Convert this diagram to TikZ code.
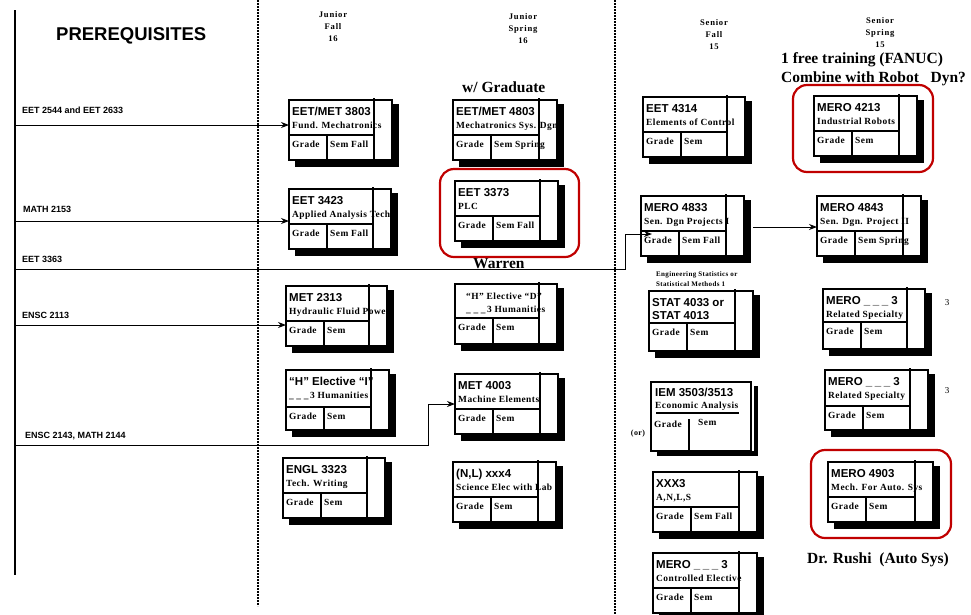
\documentclass[tikz,border=0pt]{standalone}
\usepackage{fontspec}
\setmainfont{Liberation Serif}
\newfontfamily\sansf{Liberation Sans}
\newfontfamily\serifsp[LetterSpace=5]{Liberation Serif}
\newfontfamily\serifwide[LetterSpace=9]{Liberation Serif}
\usetikzlibrary{arrows.meta}
\definecolor{boxred}{RGB}{192,0,0}

\tikzset{
 cbox/.style={draw, line width=1.3pt, fill=white, minimum height=60pt, inner sep=0pt, outer sep=0pt},
 rule/.style={line width=1.3pt},
 ctext/.style={font=\sansf\bfseries\fontsize{11.5}{13}\selectfont, inner sep=0pt, anchor=base west},
 stext/.style={font=\serifsp\bfseries\fontsize{9.4}{10}\selectfont, inner sep=0pt, anchor=base west},
 hdr/.style={font=\serifwide\bfseries\fontsize{8.6}{12}\selectfont, align=center, inner sep=0pt},
 big/.style={font=\bfseries\fontsize{15.5}{18}\selectfont, inner sep=0pt, anchor=base west},
 plabel/.style={font=\sansf\bfseries\fontsize{9}{10}\selectfont, inner sep=0pt, anchor=base west},
 smalltxt/.style={font=\serifsp\bfseries\fontsize{7}{8}\selectfont, inner sep=0pt, anchor=base west},
 arr/.style={line width=1pt, -{Stealth[length=8pt,width=6pt]}},
 dotline/.style={line width=1.7pt, dash pattern=on 1.7pt off 1.3pt},
 redbox/.style={draw=boxred, line width=2.2pt, rounded corners=14pt},
}

\newcommand\gapunders{\_\hspace{2.6pt}\_\hspace{2.6pt}\_}
\def\crsdiv{35}
\newcommand\crs[7]{%
 \fill[black] (#2+6,#3+4) rectangle (#2+#4+7,#3+67);
 \node[cbox, minimum width=#4pt, anchor=north west] (#1) at (#2,#3) {};
 \node[ctext] (#1-c) at ([shift={(3,15)}]#1.north west) {#5};
 \node[stext] (#1-s) at ([shift={(3,28)}]#1.north west) {#6};
 \node[stext] (#1-g) at ([shift={(3,\crsdiv+12)}]#1.north west) {Grade};
 \node[stext] (#1-m) at ([shift={(41,\crsdiv+12)}]#1.north west) {#7};
 \draw[rule] ([shift={(0,\crsdiv)}]#1.north west) -- ([shift={(#4-18,\crsdiv)}]#1.north west);
 \draw[rule] ([shift={(38,\crsdiv)}]#1.north west) -- ([shift={(38,0)}]#1.south west);
 \draw[rule] ([shift={(#4-18,-2)}]#1.north west) -- ([shift={(#4-18,0)}]#1.south west);
}

\begin{document}
\begin{tikzpicture}[x=1pt,y=-1pt]
\useasboundingbox (0,0) rectangle (971,614);
\clip (0,0) rectangle (971,614);
\fill[white] (0,0) rectangle (971,614);

% frame lines
\coordinate (vtop) at (15,10);
\coordinate (vbot) at (15,575);
\draw[line width=1.5pt] (vtop) -- (vbot);
\coordinate (d1t) at (258,0);
\coordinate (d1b) at (258,606);
\draw[dotline] (d1t) -- (d1b);
\coordinate (d2t) at (615,0);
\coordinate (d2b) at (615,614);
\draw[dotline] (d2t) -- (d2b);

% titles
\node[font=\sansf\bfseries\fontsize{18.5}{20}\selectfont, anchor=base west, inner sep=0pt] (title) at (56,40) {PREREQUISITES};
\node[hdr] (h1) at (333,27) {Junior\\Fall\\16};
\node[hdr] (h2) at (523,29) {Junior\\Spring\\16};
\node[hdr] (h3) at (714,35) {Senior\\Fall\\15};
\node[hdr] (h4) at (880,33) {Senior\\Spring\\15};
\node[big] (grad) at (462,92) {w/ Graduate};
\node[big] (fanuc) at (781,63) {1 free training (FANUC)};
\node[big] (comb) at (781,82) {Combine with Robot\ \ \ Dyn?};
\node[big] (warren) at (473,268) {Warren};
\node[big] (rushi) at (807,563) {Dr. Rushi\ \ (Auto Sys)};

% prerequisite labels
\node[plabel] (l1) at (22,113) {EET 2544 and EET 2633};
\node[plabel] (l2) at (23,212) {MATH 2153};
\node[plabel] (l3) at (22,262) {EET 3363};
\node[plabel] (l4) at (22,318) {ENSC 2113};
\node[plabel] (l5) at (25,438) {ENSC 2143, MATH 2144};

% junior fall
\crs{a1}{289}{100}{103}{EET/MET 3803}{Fund. Mechatronics}{Sem Fall}
\crs{a2}{289}{189}{102}{EET 3423}{Applied Analysis Tech}{Sem Fall}
\crs{a3}{286}{286}{101}{MET 2313}{Hydraulic Fluid Power}{Sem}
\def\crsdiv{37}
\crs{a4}{286}{370}{103}{“H” Elective “I”}{\gapunders\,3 Humanities}{Sem}
\def\crsdiv{35}
\crs{a5}{283}{458}{102}{ENGL 3323}{Tech. Writing}{Sem}

% junior spring
\crs{b1}{453}{100}{104}{EET/MET 4803}{Mechatronics Sys. Dgn}{Sem Spring}
\crs{b2}{455}{181}{103}{EET 3373}{PLC}{Sem Fall}
\def\crsdiv{34}
\crs{b3}{455}{284}{102}{\hspace{8pt}\serifsp\bfseries\fontsize{9.4}{10}\selectfont “H” Elective “D”}{\hspace{8pt}\gapunders\,3 Humanities}{Sem}
\def\crsdiv{35}
\crs{b4}{455}{374}{103}{MET 4003}{Machine Elements}{Sem}
\crs{b5}{453}{462}{103}{(N,L) xxx4}{Science Elec with Lab}{Sem}

% senior fall
\crs{c1}{643}{97}{102}{EET 4314}{Elements of Control}{Sem}
\crs{c2}{641}{196}{103}{MERO 4833}{Sen. Dgn Projects I}{Sem Fall}
\node[smalltxt] (es1) at (656,276) {Engineering Statistics or};
\node[smalltxt] (es2) at (656,286) {Statistical Methods 1};
\def\crsdiv{32}
\crs{c3}{649}{291}{104}{STAT 4033 or}{\sansf\bfseries\fontsize{11.5}{13}\selectfont STAT 4013}{Sem}
\def\crsdiv{35}
% IEM box
\fill[black] (657,386) rectangle (758,456);
\node[cbox, minimum width=100pt, minimum height=69pt, anchor=north west] (c4) at (651,382) {};
\fill[white] (751.5,385) rectangle (753.6,451);
\node[ctext] (c4-c) at ([shift={(4,14)}]c4.north west) {IEM 3503/3513};
\node[stext] (c4-s) at ([shift={(4,26)}]c4.north west) {Economic Analysis};
\draw[line width=1.8pt] ([shift={(5,31)}]c4.north west) -- ([shift={(88,31)}]c4.north west);
\node[stext] (c4-g) at ([shift={(3,45)}]c4.north west) {Grade};
\node[stext] (c4-m) at ([shift={(47,43)}]c4.north west) {Sem};
\draw[rule] ([shift={(38,37)}]c4.north west) -- ([shift={(38,0)}]c4.south west);
\node[font=\serifsp\bfseries\fontsize{8}{9}\selectfont, inner sep=0pt] (or) at (638,434) {(or)};
\crs{c5}{653}{472}{104}{XXX3}{A,N,L,S}{Sem Fall}
\crs{c6}{653}{553}{104}{MERO \gapunders\ 3}{Controlled Elective}{Sem}

% senior spring
\crs{d1}{814}{96}{103}{MERO 4213}{Industrial Robots}{Sem}
\crs{d2}{817}{196}{104}{MERO 4843}{Sen. Dgn. Project II}{Sem Spring}
\def\crsdiv{33}
\crs{d3}{823}{289}{102}{MERO \gapunders\ 3}{Related Specialty}{Sem}
\def\crsdiv{36}
\crs{d4}{825}{370}{103}{MERO \gapunders\ 3}{Related Specialty}{Sem}
\def\crsdiv{35}
\crs{d5}{828}{462}{105}{MERO 4903}{Mech. For Auto. Sys}{Sem}
\node[font=\fontsize{9}{10}\selectfont, inner sep=0pt] (n1) at (947,303) {3};
\node[font=\fontsize{9}{10}\selectfont, inner sep=0pt] (n2) at (947,391) {3};

% red highlight boxes
\draw[redbox] (440,169) rectangle (579,257);
\draw[redbox] (793,85) rectangle (933,172);
\draw[redbox] (811,450) rectangle (951,538);

% prerequisite connectors
\coordinate (p1) at (15,125);
\coordinate (p2) at (15,221);
\coordinate (p3) at (15,269);
\coordinate (p4) at (15,325);
\coordinate (p5) at (15,445);
\draw[arr] (p1) -- ([shift={(0,25)}]a1.north west);
\draw[arr] (p2) -- ([shift={(0,32)}]a2.north west);
\draw[arr] (p3) -- (625,269) |- ([shift={(11,38)}]c2.north west);
\draw[arr] (p4) -- ([shift={(0,39)}]a3.north west);
\draw[arr] (p5) -- (428,445) |- ([shift={(0,30)}]b4.north west);
\draw[arr] ([shift={(9,31)}]c2.north east) -- ([shift={(0,31)}]d2.north west);
\end{tikzpicture}
\end{document}
